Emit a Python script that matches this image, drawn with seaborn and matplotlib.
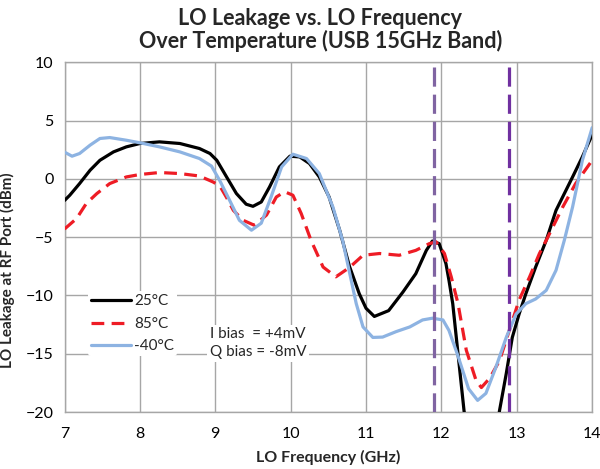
import numpy as np
import pandas as pd
import matplotlib
matplotlib.use("Agg")
import matplotlib.pyplot as plt
from matplotlib.ticker import MultipleLocator
import seaborn as sns

# 25°C (dips below -20 around 12.5 GHz, clipped by the axis)
f_25 = [7.0, 7.07, 7.2, 7.34, 7.47, 7.65, 7.82, 8.0, 8.26, 8.53, 8.79, 8.93, 9.02, 9.15,
        9.28, 9.41, 9.5, 9.61, 9.72, 9.85, 9.99, 10.12, 10.25, 10.38, 10.51, 10.65, 10.78,
        10.91, 11.0, 11.11, 11.3, 11.49, 11.66, 11.8, 11.88, 11.97, 12.06, 12.1, 12.15,
        12.22, 12.3, 12.4, 12.55, 12.7, 12.77, 12.86, 12.94, 13.03, 13.12, 13.25, 13.39,
        13.52, 13.74, 13.87, 14.0]
l_25 = [-1.85, -1.4, -0.4, 0.75, 1.6, 2.32, 2.75, 3.04, 3.18, 3.04, 2.61, 2.18, 1.6, 0.17,
        -1.25, -2.17, -2.35, -1.98, -0.69, 1.03, 1.95, 1.89, 1.32, 0.17, -1.55, -4.4, -7.5,
        -9.85, -11.1, -11.8, -11.3, -9.7, -8.13, -6.13, -5.33, -5.55, -7.27, -8.7, -10.7,
        -15.0, -19.9, -24.0, -25.5, -23.0, -19.9, -16.7, -13.6, -11.6, -9.85, -7.56, -5.27,
        -2.7, 0.17, 1.9, 3.8]

# 85°C
f_85 = [7.0, 7.16, 7.29, 7.43, 7.6, 7.82, 8.0, 8.26, 8.53, 8.79, 8.97, 9.06, 9.15, 9.24,
        9.37, 9.52, 9.68, 9.81, 9.92, 10.03, 10.14, 10.27, 10.43, 10.6, 10.78, 10.96, 11.18,
        11.44, 11.66, 11.84, 11.93, 12.04, 12.13, 12.22, 12.33, 12.46, 12.53, 12.64, 12.77,
        12.9, 13.03, 13.17, 13.3, 13.39, 13.61, 13.78, 14.0]
l_85 = [-4.3, -3.4, -2.1, -1.25, -0.4, 0.17, 0.38, 0.55, 0.46, 0.25, -0.26, -0.6, -1.6, -2.7,
        -3.55, -3.98, -3.1, -1.55, -1.1, -1.4, -2.97, -5.27, -7.56, -8.4, -7.6, -6.55, -6.4,
        -6.55, -6.13, -5.55, -5.4, -6.4, -8.4, -10.7, -14.7, -17.3, -17.9, -17.1, -15.6,
        -13.0, -10.4, -8.4, -6.4, -5.27, -2.4, -0.4, 1.6]

# -40°C
f_m40 = [7.0, 7.1, 7.2, 7.34, 7.47, 7.6, 7.82, 8.0, 8.26, 8.53, 8.79, 8.95, 9.06, 9.19,
         9.32, 9.48, 9.61, 9.74, 9.88, 10.03, 10.21, 10.38, 10.56, 10.69, 10.74, 10.87,
         10.96, 11.09, 11.22, 11.4, 11.58, 11.75, 11.88, 12.02, 12.1, 12.22, 12.36, 12.48,
         12.59, 12.72, 12.86, 12.99, 13.12, 13.25, 13.39, 13.52, 13.63, 13.74, 13.87, 14.0]
l_m40 = [2.3, 1.95, 2.18, 2.9, 3.47, 3.55, 3.32, 3.1, 2.75, 2.32, 1.75, 1.1, -0.15, -1.83,
         -3.55, -4.4, -3.8, -1.55, 1.03, 2.12, 1.75, 0.46, -2.4, -5.3, -6.8, -10.7,
         -12.7, -13.6, -13.57, -13.1, -12.7, -12.1, -11.95, -12.1, -13.0, -15.2, -18.0, -19.0,
         -18.4, -16.2, -13.6, -11.6, -10.7, -10.3, -9.56, -7.84, -5.27, -2.4, 1.6, 4.4]

band_edges = [11.9, 12.9]
band_colors = ["#8064A2", "#7030A0"]

df = pd.concat([
    pd.DataFrame({"freq": f_25, "leak": l_25, "temp": "25°C"}),
    pd.DataFrame({"freq": f_85, "leak": l_85, "temp": "85°C"}),
    pd.DataFrame({"freq": f_m40, "leak": l_m40, "temp": "-40°C"}),
])

sns.set_style("white")
plt.rcParams['font.family'] = ['Lato', 'DejaVu Sans']

fig = plt.figure(figsize=(6, 4.69), dpi=100)
ax = fig.add_axes([0.1075, 0.1215, 0.8795, 0.7455])

sns.lineplot(data=df, x="freq", y="leak", hue="temp", style="temp", sort=False,
             hue_order=["25°C", "85°C", "-40°C"],
             palette={"25°C": "black", "85°C": "#EE1C25", "-40°C": "#8DB3E2"},
             dashes={"25°C": "", "85°C": (4, 2.3), "-40°C": ""},
             linewidth=2.3, ax=ax, zorder=3)
for ln in ax.get_lines():
    ln.set_solid_joinstyle("round")
    ln.set_dash_joinstyle("round")

for xv, c in zip(band_edges, band_colors):
    ax.axvline(xv, color=c, lw=2.3, dashes=(6, 2.5), zorder=4)

ax.set_xlim(7, 14)
ax.set_ylim(-20, 10)
ax.xaxis.set_major_locator(MultipleLocator(1))
ax.xaxis.set_minor_locator(MultipleLocator(0.2))
ax.yaxis.set_major_locator(MultipleLocator(5))
ax.yaxis.set_minor_locator(MultipleLocator(1))
ax.grid(True, which="major", color="#A6A6A6", lw=1.0)
ax.tick_params(which="both", direction="in", color="#A6A6A6", labelsize=11.5, labelcolor="black")
ax.tick_params(which="major", length=0)
ax.tick_params(axis="x", which="major", pad=11)
ax.tick_params(axis="y", which="major", pad=8)
ax.tick_params(which="minor", length=4)
for s in ax.spines.values():
    s.set_color("#A6A6A6")
    s.set_linewidth(1.0)

ax.set_xlabel("LO Frequency (GHz)", fontsize=11.5, fontweight="bold", labelpad=6)
ax.set_ylabel("LO Leakage at RF Port (dBm)", fontsize=11, fontweight="bold")
ax.yaxis.set_label_coords(-0.094, 0.405)
ax.set_title("LO Leakage vs. LO Frequency\nOver Temperature (USB 15GHz Band)",
             fontsize=15.5, fontweight="bold", pad=10, linespacing=1.1, x=0.485)

leg = ax.legend(loc="upper left", bbox_to_anchor=(0.045, 0.345), frameon=True,
                fontsize=11, handlelength=2.6, handletextpad=0.2, labelspacing=0.55,
                borderpad=0.2, borderaxespad=0)
leg.get_frame().set_facecolor("white")
leg.get_frame().set_edgecolor("none")
leg.get_frame().set_alpha(1)
leg.set_zorder(5)

ax.text(8.93, -14.1, "I bias  = +4mV\nQ bias = -8mV", fontsize=11, va="center", ha="left",
        linespacing=1.35, zorder=5,
        bbox=dict(facecolor="white", edgecolor="none", pad=2))

fig.savefig("out.png", dpi=100)
